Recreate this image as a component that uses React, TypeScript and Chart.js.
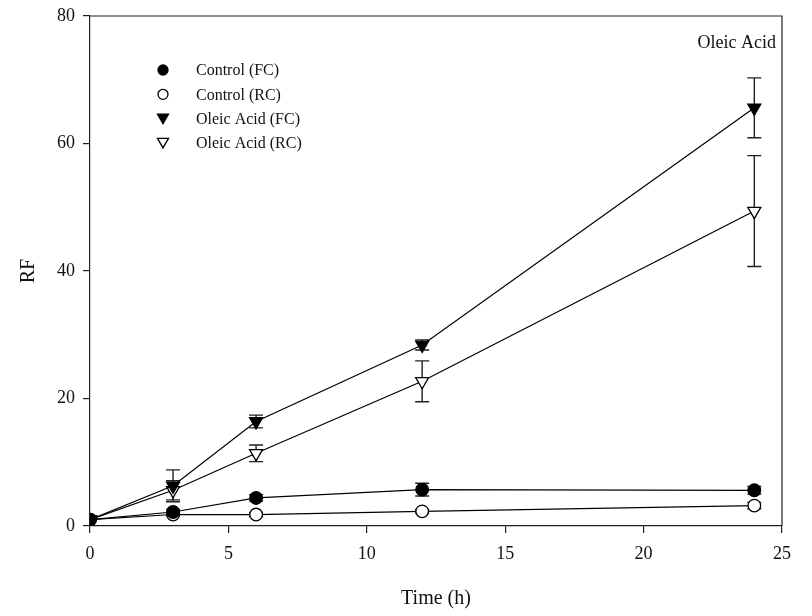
import React, { useEffect, useRef } from "react";
import { Chart, registerables } from "chart.js";

Chart.register(...registerables);

const times = [0, 3, 6, 12, 24];
const controlFC = [1.0, 2.2, 4.4, 5.7, 5.6];
const controlFCErr = [0, 0.4, 0.5, 1.0, 0.6];
const controlRC = [1.0, 1.8, 1.8, 2.3, 3.2];
const controlRCErr = [0, 0.2, 0.3, 0.3, 0.5];
const oleicFC = [1.0, 6.3, 16.4, 28.4, 65.6];
const oleicFCErr = [0, 2.5, 1.0, 0.8, 4.7];
const oleicRC = [1.0, 5.6, 11.4, 22.7, 49.4];
const oleicRCErr = [0, 1.5, 1.3, 3.2, 8.7];

const seriesNames = ["Control (FC)", "Control (RC)", "Oleic Acid (FC)", "Oleic Acid (RC)"];
const xTicks = [0, 5, 10, 15, 20, 25];
const yTicks = [0, 20, 40, 60, 80];
const panelTitle = "Oleic Acid";
const xTitle = "Time (h)";
const yTitle = "RF";

const FONT = "'Liberation Serif', 'Times New Roman', serif";
const INK = "#111";

const errorBarPlugin = {
  id: "errorBars",
  beforeDatasetsDraw(chart: any) {
    const ctx = chart.ctx;
    const xs = chart.scales.x;
    const ys = chart.scales.y;
    ctx.save();
    ctx.strokeStyle = "#222";
    ctx.lineWidth = 1.4;
    chart.data.datasets.forEach((ds: any) => {
      const errs: number[] = ds.errors || [];
      ds.data.forEach((p: any, i: number) => {
        const e = errs[i];
        if (!e) return;
        const px = xs.getPixelForValue(p.x);
        const top = ys.getPixelForValue(p.y + e);
        const bot = ys.getPixelForValue(p.y - e);
        ctx.beginPath();
        ctx.moveTo(px, top);
        ctx.lineTo(px, bot);
        ctx.moveTo(px - 7, top);
        ctx.lineTo(px + 7, top);
        ctx.moveTo(px - 7, bot);
        ctx.lineTo(px + 7, bot);
        ctx.stroke();
      });
    });
    ctx.restore();
  },
};

const framePlugin = {
  id: "frameAndLegend",
  afterDraw(chart: any) {
    const ctx = chart.ctx;
    const a = chart.chartArea;
    ctx.save();
    ctx.strokeStyle = "#222";
    ctx.lineWidth = 1.2;
    ctx.beginPath();
    ctx.moveTo(a.left, a.top);
    ctx.lineTo(a.right, a.top);
    ctx.lineTo(a.right, a.bottom);
    ctx.stroke();

    // panel title
    ctx.fillStyle = INK;
    ctx.font = `18px ${FONT}`;
    ctx.textAlign = "right";
    ctx.textBaseline = "middle";
    ctx.fillText(panelTitle, a.right - 6, 43);

    // legend
    const styles = chart.data.datasets.map((ds: any) => ({
      fill: ds.pointBackgroundColor,
      tri: ds.pointStyle === "triangle",
    }));
    ctx.font = `16px ${FONT}`;
    ctx.textAlign = "left";
    seriesNames.forEach((name, i) => {
      const y = 70 + i * 24.3;
      const mx = 163;
      ctx.beginPath();
      if (styles[i].tri) {
        ctx.moveTo(mx - 5.5, y - 4.5);
        ctx.lineTo(mx + 5.5, y - 4.5);
        ctx.lineTo(mx, y + 5);
        ctx.closePath();
      } else {
        ctx.arc(mx, y, 5, 0, Math.PI * 2);
      }
      ctx.fillStyle = styles[i].fill;
      ctx.fill();
      ctx.lineWidth = 1.3;
      ctx.strokeStyle = "#000";
      ctx.stroke();
      ctx.fillStyle = INK;
      ctx.fillText(name, 196, y + 1);
    });
    ctx.restore();
  },
};

function toPoints(vals: number[]) {
  return times.map((t, i) => ({ x: t, y: vals[i] }));
}

export default function App() {
  const ref = useRef<HTMLCanvasElement>(null);
  useEffect(() => {
    document.body.style.margin = "0";
    const mk = (label: string, vals: number[], errs: number[], fill: string, tri: boolean) => ({
      label,
      data: toPoints(vals),
      errors: errs,
      borderColor: "#000",
      borderWidth: 1.2,
      pointStyle: tri ? "triangle" : "circle",
      rotation: tri ? 180 : 0,
      pointRadius: tri ? 7.5 : 6.3,
      pointBackgroundColor: fill,
      pointBorderColor: "#000",
      pointBorderWidth: 1.3,
      fill: false,
      tension: 0,
    });
    const chart = new Chart(ref.current as HTMLCanvasElement, {
      type: "line",
      data: {
        datasets: [
          mk(seriesNames[0], controlFC, controlFCErr, "#000", false),
          mk(seriesNames[1], controlRC, controlRCErr, "#fff", false),
          mk(seriesNames[2], oleicFC, oleicFCErr, "#000", true),
          mk(seriesNames[3], oleicRC, oleicRCErr, "#fff", true),
        ] as any,
      },
      options: {
        animation: false,
        responsive: false,
        layout: { padding: { top: 16, right: 30, left: 0, bottom: 0 } },
        plugins: { legend: { display: false }, tooltip: { enabled: false } },
        scales: {
          x: {
            type: "linear",
            min: 0,
            max: 25,
            afterFit: (s: any) => { s.height = 90; s.paddingLeft = 0; s.paddingRight = 0; },
            afterBuildTicks: (s: any) => { s.ticks = xTicks.map((v) => ({ value: v })); },
            grid: { drawOnChartArea: false, tickLength: 7, color: "#222", lineWidth: 1.2 },
            border: { color: "#222", width: 1.2 },
            ticks: { color: INK, font: { family: FONT, size: 18 }, padding: 10, maxRotation: 0 },
            title: { display: true, text: xTitle, color: INK, font: { family: FONT, size: 20 }, padding: { bottom: 5, top: 0 } },
          },
          y: {
            type: "linear",
            min: 0,
            max: 80,
            afterFit: (s: any) => { s.width = 90; s.paddingTop = 0; s.paddingBottom = 0; },
            afterBuildTicks: (s: any) => { s.ticks = yTicks.map((v) => ({ value: v })); },
            grid: { drawOnChartArea: false, tickLength: 7, color: "#222", lineWidth: 1.2 },
            border: { color: "#222", width: 1.2 },
            ticks: { color: INK, font: { family: FONT, size: 18 }, padding: 8 },
            title: { display: true, text: yTitle, color: INK, font: { family: FONT, size: 20 }, padding: { top: 17, bottom: 0 } },
          },
        },
      } as any,
      plugins: [errorBarPlugin, framePlugin],
    });
    return () => chart.destroy();
  }, []);
  return <canvas ref={ref} width={812} height={616} style={{ display: "block" }} />;
}
